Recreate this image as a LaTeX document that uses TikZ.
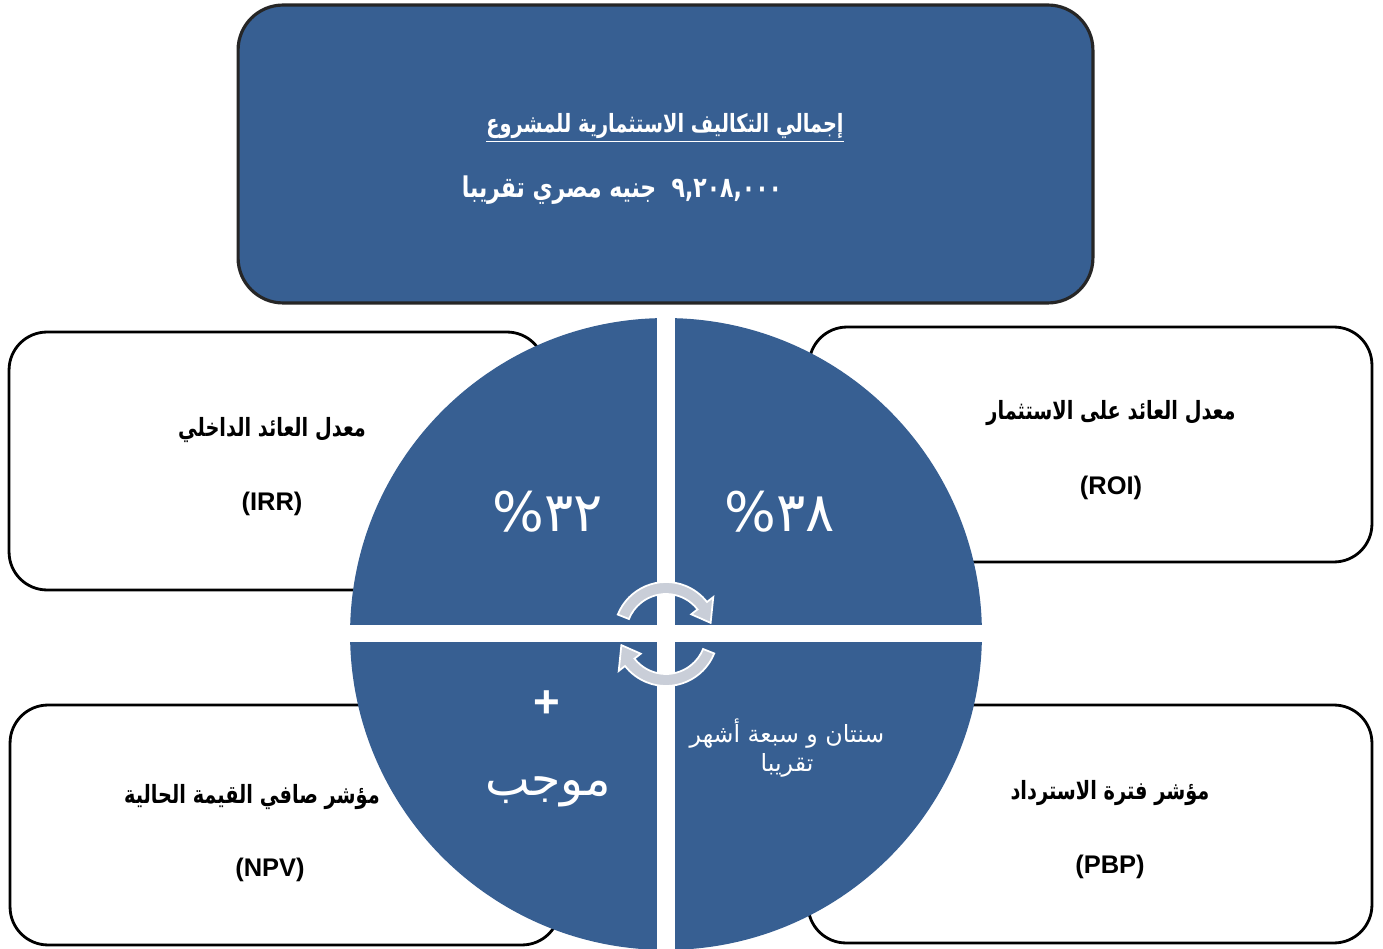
\documentclass[tikz,border=0pt]{standalone}
\usepackage{graphicx}
\usepackage{fontspec}
\setmainfont{Liberation Sans}
\newfontfamily\arabicfont[Script=Arabic]{DejaVu Sans}
\TeXXeTstate=1
\usetikzlibrary{calc}
\newcommand{\tallar}[1]{\scalebox{1}[1.3]{#1}}
\definecolor{blu}{HTML}{375F92}
\definecolor{cycgray}{HTML}{C9CED8}
\tikzset{
  card/.style={draw=black, line width=1.6pt, fill=white, rounded corners=0.76cm, inner sep=0pt},
  head/.style={draw=black!85, line width=1.8pt, fill=blu, rounded corners=0.9cm, inner sep=0pt},
  lab/.style={text=black, font=\arabicfont\bfseries\fontsize{11}{13}\selectfont, inner sep=0pt},
  abbr/.style={text=black, font=\bfseries\fontsize{14.5}{16}\selectfont, inner sep=0pt},
  wtxt/.style={text=white, inner sep=0pt},
  pct/.style={wtxt, font=\arabicfont\fontsize{31}{33}\selectfont},
  cyc/.style={fill=cycgray, draw=white, line width=1pt}
}
\begin{document}
\begin{tikzpicture}[x=0.02cm,y=-0.02cm]
\useasboundingbox[fill=white] (0,0) rectangle (1383,949);
% boxes
\node[head, minimum width=17.1cm, minimum height=5.96cm] (top) at (665.5,154) {};
\node[card, minimum width=10.72cm, minimum height=5.16cm] (lt) at (277,461) {};
\node[card, minimum width=11.26cm, minimum height=4.7cm] (rt) at (1090.5,444.5) {};
\node[card, minimum width=11.0cm, minimum height=4.8cm] (lb) at (285,825) {};
\node[card, minimum width=11.28cm, minimum height=4.76cm] (rb) at (1090,824) {};
% pie
\node[circle, fill=blu, minimum size=12.64cm, inner sep=0pt] (pie) at (666,634) {};
\begin{scope}
  \clip (666,634) circle[radius=316];
  \fill[white] (657,300) rectangle (675,960);
  \fill[white] (340,625) rectangle (995,642);
\end{scope}
% cycle arrows
\coordinate (c) at (666,634);
\path[cyc] ($(c)+(-158:52)$) arc[start angle=-158, end angle=-38, radius=52]
  -- ($(c)+(-38:60)$) -- ($(c)+(-14:46)$) -- ($(c)+(-38:32)$) -- ($(c)+(-38:40)$)
  arc[start angle=-38, end angle=-158, radius=40] -- cycle;
\path[cyc] ($(c)+(22:52)$) arc[start angle=22, end angle=142, radius=52]
  -- ($(c)+(142:60)$) -- ($(c)+(166:46)$) -- ($(c)+(142:32)$) -- ($(c)+(142:40)$)
  arc[start angle=142, end angle=22, radius=40] -- cycle;
% header texts
\node[wtxt, font=\arabicfont\bfseries\fontsize{11}{13}\selectfont] (t1) at (665,128)
  {\tallar{\underline{\beginR إجمالي التكاليف الاستثمارية للمشروع\endR}}};
\node[wtxt, font=\arabicfont\bfseries\fontsize{12.5}{15}\selectfont] (t2) at (622,190)
  {\tallar{\beginR ٩,٢٠٨,٠٠٠\ \ جنيه مصري تقريبا\endR}};
% card labels
\node[lab] (ltl) at (272,430) {\tallar{\beginR معدل العائد الداخلي\endR}};
\node[abbr] (lta) at (272,504) {(IRR)};
\node[lab] (rtl) at (1111,413) {\tallar{\beginR معدل العائد على الاستثمار\endR}};
\node[abbr] (rta) at (1111,488) {(ROI)};
\node[lab] (lbl) at (252,797) {\tallar{\beginR مؤشر صافي القيمة الحالية\endR}};
\node[abbr] (lba) at (270,870) {(NPV)};
\node[lab] (rbl) at (1110,793) {\tallar{\beginR مؤشر فترة الاسترداد\endR}};
\node[abbr] (rba) at (1110,867) {(PBP)};
% pie texts
\node[pct] (p1) at (548,512) {\mbox{\%}\mbox{٣٢}};
\node[pct] (p2) at (780,512) {\mbox{\%}\mbox{٣٨}};
\node[wtxt, font=\bfseries\fontsize{26}{28}\selectfont] (plus) at (547,704) {+};
\node[wtxt, font=\arabicfont\fontsize{27}{29}\selectfont] (mj) at (548,792) {\beginR موجب\endR};
\node[wtxt, font=\arabicfont\fontsize{13.5}{16.5}\selectfont, align=center] (pb) at (787,748)
  {\beginR سنتان و سبعة أشهر\endR\\ \beginR تقريبا\endR};
\end{tikzpicture}
\end{document}
